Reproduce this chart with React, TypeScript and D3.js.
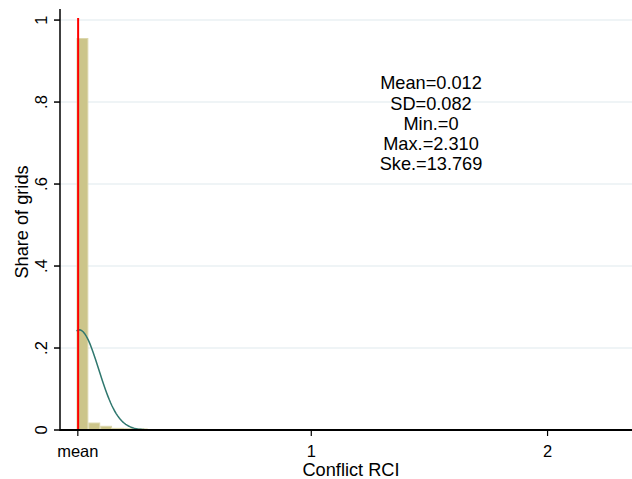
import React from "react";
import * as d3 from "d3";

const W = 632;
const H = 479;

// Histogram (fraction per bin), bins start at 0
const binStart = 0;
const binWidth = 0.0502;
const binFractions = [0.955, 0.017, 0.009, 0.004, 0.003, 0.0025, 0.0006, 0.0004, 0.0003, 0.0002, 0.0002, 0.0001];

const statMean = 0.012;
const statSD = 0.082;
const statMin = 0;
const statMax = 2.31;
const statLines = ["Mean=0.012", "SD=0.082", "Min.=0", "Max.=2.310", "Ske.=13.769"];

const yTicks = [0, 0.2, 0.4, 0.6, 0.8, 1];
const yTickLabels = ["0", ".2", ".4", ".6", ".8", "1"];
const xTicks = [statMean, 1, 2];
const xTickLabels = ["mean", "1", "2"];

const FONT = "'Liberation Sans', Arial, sans-serif";

export default function App() {
  const x = d3.scaleLinear().domain([-0.0698, 2.351]).range([60, 632]);
  const y = d3.scaleLinear().domain([0, 1.027]).range([430, 9]);

  const normal = (v: number) =>
    (binWidth / (statSD * Math.sqrt(2 * Math.PI))) *
    Math.exp(-0.5 * ((v - statMean) / statSD) ** 2);
  const curvePts = d3.range(0, 400).map((i) => statMin + (i / 399) * (statMax - statMin));
  const line = d3
    .line<number>()
    .x((d) => x(d))
    .y((d) => y(normal(d)));

  return (
    <svg width={W} height={H} style={{ position: "absolute", left: 0, top: 0, background: "#fff" }} fontFamily={FONT}>
      <rect x={0} y={0} width={W} height={H} fill="#ffffff" />
      {/* grid */}
      {yTicks.slice(1).map((t) => (
        <line key={"g" + t} x1={60} x2={632} y1={y(t)} y2={y(t)} stroke="#eaf0f3" strokeWidth={1.5} />
      ))}
      {/* bars */}
      {binFractions.map((f, i) => {
        const x0 = x(binStart + i * binWidth);
        const x1 = x(binStart + (i + 1) * binWidth);
        return (
          <rect
            key={"b" + i}
            x={x0 + 0.5}
            y={y(f)}
            width={x1 - x0 - 1}
            height={y(0) - y(f)}
            fill="#ccc58a"
            stroke="#dcd7ad"
            strokeWidth={1}
          />
        );
      })}
      {/* normal curve */}
      <path d={line(curvePts) || ""} fill="none" stroke="#2f776e" strokeWidth={1.5} />
      {/* mean line */}
      <line x1={x(statMean) - 1.2} x2={x(statMean) - 1.2} y1={y(1) - 2} y2={y(0)} stroke="#ff0000" strokeWidth={2} />
      {/* axes */}
      <line x1={60} x2={60} y1={9} y2={431} stroke="#000" strokeWidth={1.5} />
      <line x1={60} x2={632} y1={430} y2={430} stroke="#000" strokeWidth={2} />
      {yTicks.map((t, i) => (
        <g key={"yt" + t}>
          <line x1={54} x2={60} y1={y(t)} y2={y(t)} stroke="#000" strokeWidth={1.5} />
          <text
            transform={`translate(47,${y(t)}) rotate(-90)`}
            textAnchor="middle"
            fontSize={16.5}
            fill="#000"
          >
            {yTickLabels[i]}
          </text>
        </g>
      ))}
      {xTicks.map((t, i) => (
        <g key={"xt" + i}>
          <line x1={x(t) - 1.5} x2={x(t) - 1.5} y1={430} y2={436} stroke="#000" strokeWidth={1.2} />
          <text x={x(t) - 1.5} y={457} textAnchor="middle" fontSize={16.5} fill="#000">
            {xTickLabels[i]}
          </text>
        </g>
      ))}
      <text x={351} y={476} textAnchor="middle" fontSize={18.2} fill="#000">
        Conflict RCI
      </text>
      <text transform={`translate(28,222) rotate(-90)`} textAnchor="middle" fontSize={18.2} fill="#000">
        Share of grids
      </text>
      {statLines.map((s, i) => (
        <text key={"s" + i} x={431} y={89.3 + i * 20.2} textAnchor="middle" fontSize={18.2} fill="#000">
          {s}
        </text>
      ))}
    </svg>
  );
}
